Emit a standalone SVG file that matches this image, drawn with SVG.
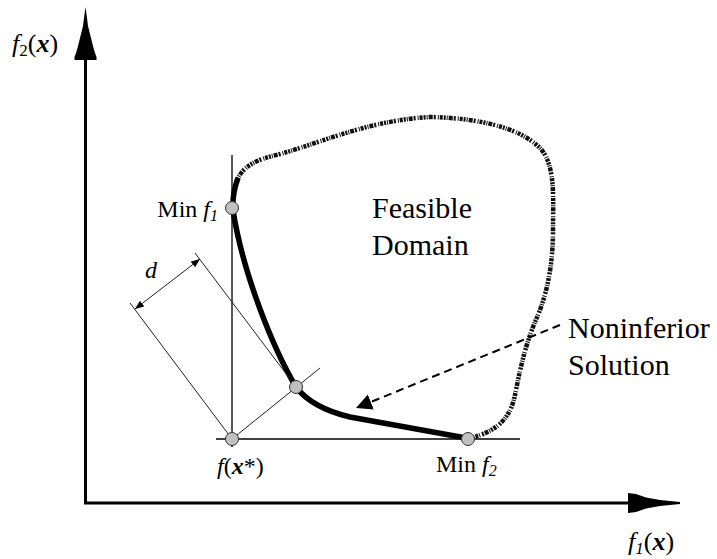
<svg xmlns="http://www.w3.org/2000/svg" width="717" height="559" viewBox="0 0 717 559">
<style>
.lbl { font-size: 24px; }
.ax { font-size: 26px; }
.big { font-size: 30px; }
.it { font-style: italic; }
.bi { font-style: italic; font-weight: bold; }
.axis { stroke: #000; stroke-width: 3; fill: none; }
.guide { stroke: #000; stroke-width: 1.3; fill: none; }
.ext { stroke: #222; stroke-width: 1; fill: none; }
.pt { fill: #c0c0c0; stroke: #333; stroke-width: 1; }
</style>
<defs>
<marker id="dimArrow" viewBox="0 0 10 10" refX="10" refY="5" markerWidth="9" markerHeight="9" markerUnits="userSpaceOnUse" orient="auto-start-reverse">
<path d="M0,1 L10,5 L0,9 Z" fill="#000"/>
</marker>
<marker id="openArrow" viewBox="0 0 10 10" refX="10" refY="5" markerWidth="16" markerHeight="16" markerUnits="userSpaceOnUse" orient="auto">
<path d="M0,0 L10,5 L0,10 Z" fill="#000"/>
</marker>
</defs>
<rect width="717" height="559" fill="#fff"/>

<g id="axes">
<line class="axis" x1="85.5" y1="58" x2="85.5" y2="503"/>
<line class="axis" x1="84" y1="503" x2="630" y2="503"/>
<polygon points="85.5,7 87,18 88,26 90,34 92,42 93.5,48 95,53 96.5,57 96.5,60 74.5,60 74.5,57 76,53 77.5,48 79,42 81,34 83,26 84,18" fill="#000"/>
<polygon points="628,493 636,494 646,497.5 660,500 680,502 680,504 660,506 646,508.5 636,512 628,513" fill="#000"/>
</g>

<g id="feasible-domain">
<path d="M236,183 C242,166 255,160 280,154 C320,143 370,120 430,117 C480,118 520,128 540,148 C556,165 553,200 553,230 C553,268 546,298 535,322 C525,346 520,370 515,395 C510,420 495,432 470,438" fill="none" stroke="#111" stroke-width="4.5" stroke-dasharray="3 1 2 1 1 1 4 1 2 2 1 1"/>
</g>

<g id="guides">
<line class="guide" x1="232" y1="155" x2="232" y2="447"/>
<line class="guide" x1="216" y1="439" x2="520" y2="439"/>
</g>

<g id="noninferior-curve">
<path d="M238,178 Q232,194 233,210 C243,275 274,350 296,387 Q312,408 350,417 L466,438" fill="none" stroke="#000" stroke-width="5.5" stroke-linejoin="round"/>
</g>

<g id="connectors">
<line class="ext" x1="232" y1="439" x2="130" y2="303"/>
<line class="ext" x1="296" y1="387" x2="195" y2="253"/>
<line class="ext" x1="232" y1="439" x2="320" y2="368"/>
<line class="ext" x1="135" y1="309" x2="200" y2="259" marker-start="url(#dimArrow)" marker-end="url(#dimArrow)"/>
<line x1="560" y1="325" x2="356" y2="408" stroke="#000" stroke-width="2" stroke-dasharray="8 5" marker-end="url(#openArrow)"/>
</g>

<g id="points">
<circle id="p-minf1" class="pt" cx="232" cy="208" r="6.5"/>
<circle id="p-tangent" class="pt" cx="296" cy="387" r="6.5"/>
<circle id="p-fx" class="pt" cx="232" cy="439" r="6.5"/>
<circle id="p-minf2" class="pt" cx="468" cy="439" r="6.5"/>
</g>

<g id="labels" font-family="'Liberation Serif', 'DejaVu Serif', serif" fill="#000">
<text class="ax" x="12" y="52"><tspan class="it">f</tspan><tspan font-size="17" dy="4">2</tspan><tspan dy="-4">(</tspan><tspan class="bi">x</tspan>)</text>
<text class="ax" x="628" y="550"><tspan class="it">f</tspan><tspan class="it" font-size="17" dy="4">1</tspan><tspan dy="-4">(</tspan><tspan class="bi">x</tspan>)</text>
<text class="lbl" x="218" y="217" text-anchor="end">Min <tspan class="it">f</tspan><tspan class="it" font-size="16" dy="4">1</tspan></text>
<text class="lbl" x="436" y="472">Min <tspan class="it">f</tspan><tspan class="it" font-size="16" dy="4">2</tspan></text>
<text class="lbl" x="217" y="474"><tspan class="it">f</tspan>(<tspan class="bi">x</tspan>*)</text>
<text class="lbl it" x="145" y="278">d</text>
<text class="big" x="372" y="218">Feasible</text>
<text class="big" x="372" y="255">Domain</text>
<text class="big" x="568" y="338">Noninferior</text>
<text class="big" x="568" y="375">Solution</text>
</g>
</svg>
